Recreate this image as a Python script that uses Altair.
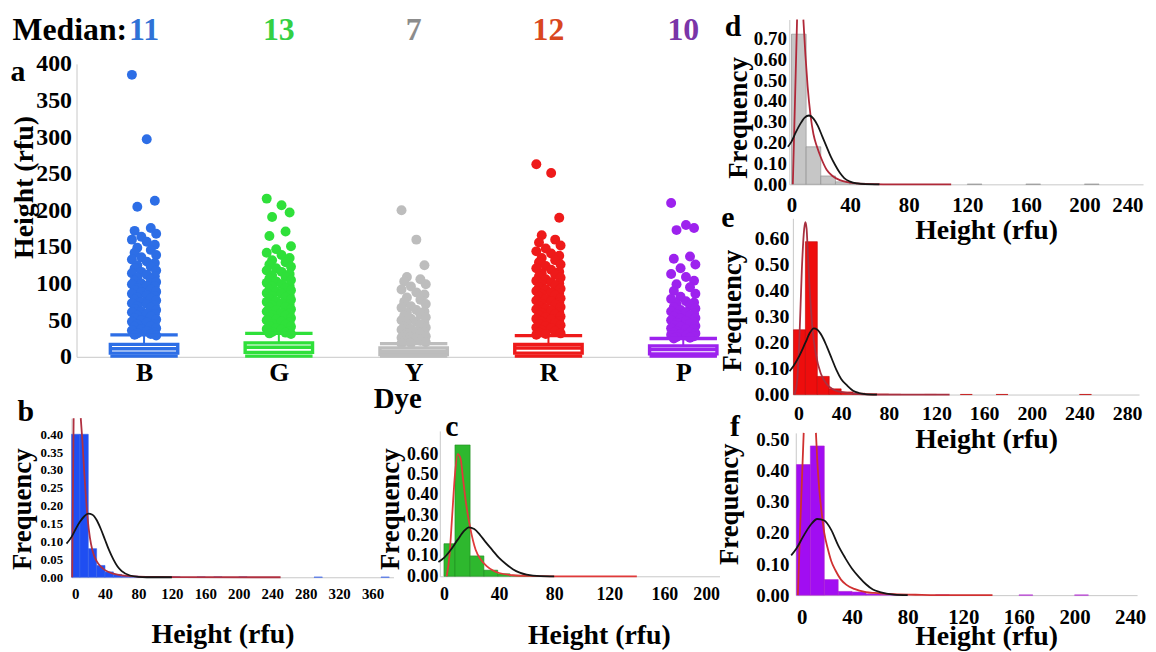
import altair as alt
import pandas as pd

# ---------------- data ----------------
DYES = ["B", "G", "Y", "R", "P"]
MEDIANS = [11, 13, 7, 12, 10]
Q1 = [5, 6, 3, 5, 4]
Q3 = [17, 19, 12, 17, 15]
WHISKER_HI = [30, 32, 18, 29, 25]
WHISKER_LO = [1, 1, 1, 1, 1]

B_HEIGHTS = [385, 297, 213, 205, 176, 172, 168, 164, 160, 157, 153, 149, 146, 142, 139, 136, 133, 130,
             128, 125, 123, 121, 118, 116, 114, 112, 110, 108, 106, 104, 102, 100, 99, 97, 96, 94, 92,
             91, 89, 88, 86, 84, 83, 81, 80, 78, 77, 75, 73, 72, 70, 69, 67, 65, 64, 62, 61, 59, 58,
             56, 55, 53, 51, 50, 48, 47, 45, 44, 42, 41, 39, 38, 36, 35, 33, 32, 31, 30, 29]
G_HEIGHTS = [216, 207, 197, 191, 171, 165, 151, 147, 142, 139, 135, 132, 129, 126, 123, 121, 118, 116,
             113, 111, 109, 107, 105, 103, 101, 99, 97, 96, 94, 92, 91, 89, 87, 86, 84, 83, 81, 79, 78,
             76, 75, 73, 71, 70, 68, 67, 65, 64, 62, 60, 59, 57, 56, 54, 53, 51, 50, 48, 47, 45, 44,
             42, 41, 39, 38, 37, 35, 34, 33, 32, 31]
Y_HEIGHTS = [200, 160, 125, 109, 106, 103, 99, 96, 92, 88, 85, 81, 78, 75, 72, 69, 67, 64, 62, 60, 58,
             56, 54, 52, 50, 48, 46, 45, 43, 41, 40, 38, 37, 35, 34, 32, 31, 29, 28, 27, 26, 25, 24, 23,
             22, 21, 20, 19, 18]
R_HEIGHTS = [263, 251, 190, 166, 160, 156, 152, 148, 144, 141, 138, 135, 132, 129, 126, 124, 121, 119,
             116, 114, 112, 110, 108, 106, 104, 102, 100, 98, 97, 95, 93, 92, 90, 88, 87, 85, 84, 82,
             80, 79, 77, 76, 74, 72, 71, 69, 68, 66, 65, 63, 61, 60, 58, 57, 55, 54, 52, 51, 49, 48,
             46, 45, 43, 42, 40, 39, 37, 36, 35, 33, 32, 31, 30]
P_HEIGHTS = [210, 180, 176, 173, 137, 134, 126, 121, 113, 109, 104, 99, 95, 90, 86, 82, 79, 76, 74, 72,
             70, 68, 66, 64, 62, 61, 59, 58, 56, 55, 53, 52, 50, 49, 47, 46, 45, 43, 42, 41, 39, 38, 37,
             35, 34, 33, 32, 31, 30, 29, 28, 27, 26, 25]

# histograms: bin start, bin end, frequency
B_BIN_LO = [0, 10, 20, 30, 40, 50, 60, 70, 80, 90, 100, 120, 150, 170, 200, 290, 370]
B_BIN_HI = [10, 20, 30, 40, 50, 60, 70, 80, 90, 100, 110, 130, 160, 180, 210, 300, 380]
B_FREQ = [0.40, 0.40, 0.08, 0.033, 0.015, 0.008, 0.004, 0.003, 0.002, 0.002, 0.001, 0.001, 0.001, 0.001, 0.001, 0.0005, 0.0005]
C_BIN_LO = [0, 8, 19, 29, 39, 48, 58]
C_BIN_HI = [8, 19, 29, 39, 48, 58, 68]
C_FREQ = [0.16, 0.645, 0.10, 0.03, 0.012, 0.005, 0.002]
D_BIN_LO = [0, 10, 20, 30, 40, 50, 120, 160, 200]
D_BIN_HI = [10, 20, 30, 40, 50, 60, 130, 170, 210]
D_FREQ = [0.72, 0.18, 0.04, 0.012, 0.006, 0.003, 0.001, 0.001, 0.001]
E_BIN_LO = [0, 10, 20, 30, 40, 50, 60, 70, 80, 110, 140, 170, 240]
E_BIN_HI = [10, 20, 30, 40, 50, 60, 70, 80, 90, 120, 150, 180, 250]
E_FREQ = [0.25, 0.59, 0.07, 0.022, 0.01, 0.005, 0.003, 0.002, 0.001, 0.0005, 0.0005, 0.0005, 0.0005]
F_BIN_LO = [0, 10, 20, 30, 40, 50, 60, 70, 100, 160, 200]
F_BIN_HI = [10, 20, 30, 40, 50, 60, 70, 80, 110, 170, 210]
F_FREQ = [0.42, 0.48, 0.05, 0.012, 0.01, 0.004, 0.003, 0.002, 0.0005, 0.0005, 0.0005]

# fitted curves as read (None = the curve leaves the panel at the top)
B_LOGN_X = [0.8, 1.5, 2.5, None, 11, 13, 15, 17, 19, 22, 25, 30, 35, 40, 50, 60, 80, 100, 130, 250]
B_LOGN_Y = [0, 0.2, 0.445, None, 0.445, 0.38, 0.3, 0.23, 0.17, 0.11, 0.075, 0.045, 0.03, 0.02, 0.01, 0.005, 0.002, 0.0007, 0.0002, 0]
B_NORM_X = [-6, 0, 5, 10, 15, 20, 25, 30, 35, 40, 45, 50, 55, 60, 70, 80, 90, 120]
B_NORM_Y = [0.094, 0.113, 0.135, 0.155, 0.17, 0.178, 0.175, 0.16, 0.135, 0.105, 0.075, 0.05, 0.03, 0.017, 0.005, 0.001, 0, 0]
C_LOGN_X = [2, 4, 6, 8, 10, 12, 14, 16, 19, 23, 27, 31, 36, 40, 50, 60, 80, 140]
C_LOGN_Y = [0, 0.1, 0.3, 0.5, 0.6, 0.58, 0.47, 0.36, 0.24, 0.13, 0.08, 0.05, 0.027, 0.016, 0.005, 0.0015, 0, 0]
C_NORM_X = [-4, 0, 5, 10, 15, 18, 22, 26, 30, 35, 40, 45, 50, 55, 60, 70, 80]
C_NORM_Y = [0.07, 0.09, 0.13, 0.18, 0.225, 0.24, 0.232, 0.205, 0.17, 0.13, 0.09, 0.06, 0.035, 0.018, 0.008, 0.001, 0]
D_LOGN_X = [0.9, 2.2, 3.8, None, 8.1, 9.5, 11, 13, 15, 17.4, 20, 24, 28, 33, 38, 44, 55, 70, 109]
D_LOGN_Y = [0, 0.35, 0.79, None, 0.79, 0.62, 0.47, 0.33, 0.24, 0.18, 0.13, 0.07, 0.04, 0.02, 0.01, 0.005, 0.001, 0, 0]
D_NORM_X = [-2.5, 0, 3, 6, 9, 12, 15, 18, 21, 24, 27, 30, 33, 36, 40, 45, 50, 60]
D_NORM_Y = [0.18, 0.205, 0.25, 0.29, 0.32, 0.33, 0.315, 0.28, 0.23, 0.18, 0.13, 0.09, 0.055, 0.03, 0.013, 0.004, 0.001, 0]
E_LOGN_X = [0.8, 3, 5, 7, 9, 10, 11, 12, 13.3, 16, 19, 23, 28, 33, 40, 50, 60, 70, 131]
E_LOGN_Y = [0, 0.05, 0.22, 0.48, 0.64, 0.665, 0.64, 0.55, 0.43, 0.25, 0.15, 0.08, 0.04, 0.02, 0.01, 0.004, 0.001, 0, 0]
E_NORM_X = [-3.3, 0, 5, 10, 14, 17, 20, 24, 28, 32, 36, 40, 45, 50, 55, 60, 70]
E_NORM_Y = [0.09, 0.11, 0.15, 0.2, 0.24, 0.255, 0.25, 0.225, 0.185, 0.14, 0.095, 0.06, 0.035, 0.015, 0.006, 0.002, 0]
F_LOGN_X = [1, 2.5, 5.2, None, 14, 15, 16.4, 18, 20, 22.5, 25, 28, 32, 36, 41.6, 50, 56, 70, 90, 110, 141]
F_LOGN_Y = [0, 0.2, 0.522, None, 0.522, 0.43, 0.34, 0.27, 0.2, 0.15, 0.11, 0.08, 0.05, 0.033, 0.02, 0.01, 0.007, 0.003, 0.001, 0, 0]
F_NORM_X = [-3.8, 0, 5, 10, 15, 20, 25, 30, 35, 40, 45, 50, 55, 60, 70, 80]
F_NORM_Y = [0.128, 0.15, 0.19, 0.225, 0.245, 0.24, 0.21, 0.16, 0.12, 0.085, 0.058, 0.035, 0.018, 0.01, 0.002, 0]

# ---------------- style / layout ----------------
M = 8              # page margin
W, H = 1148, 644   # whole canvas
SERIF = "Liberation Serif"
DYE_COLORS = ["#2d6ee6", "#2fe03a", "#bdbdbd", "#ee1a1a", "#9d22ee"]
MEDIAN_COLORS = ["#2f72d6", "#33d044", "#8c8c8c", "#d9471f", "#7a35a8"]
JIT = [-0.09, 0.02, 0.08, -0.05, 0.05, -0.07, 0.09, -0.02]
BOX_HALF = 0.25
AXIS_GREY = "#c8c8c8"


def geom(x0px, xppu, xdom, y0px, yppu, ydom):
    xr = [x0px + xppu * xdom[0] - M, x0px + xppu * xdom[1] - M]
    yr = [y0px - yppu * ydom[0] - M, y0px - yppu * ydom[1] - M]
    return dict(xdom=xdom, ydom=ydom, xr=xr, yr=yr, yax=xr[0], xax=y0px - M)


GA = geom(145, 135.75, [-0.501, 4.236], 357, 0.7375, [0, 400])
GB = geom(72, 0.842, [0, 385], 579, 360, [0, 0.445])
GC = geom(447, 1.3875, [-3, 200], 578, 205, [0, 0.714])
GD = geom(797, 1.475, [-1.5, 240], 183.3, 210, [0, 0.79])
GE = geom(799, 1.2, [-0.5, 290], 395, 261, [0, 0.68])
GF = geom(802, 1.4, [-0.5, 245], 597, 313, [0, 0.522])


def xs(g):
    return alt.Scale(domain=g["xdom"], range=g["xr"], nice=False, zero=False)


def ys(g):
    return alt.Scale(domain=g["ydom"], range=g["yr"], nice=False, zero=False)


COMMON = dict(domainColor=AXIS_GREY, domainWidth=1, ticks=False, grid=False,
              labelFont=SERIF, labelFontWeight="bold", labelColor="black",
              titleFont=SERIF, titleFontWeight="bold", titleColor="black")


def bottom_axis(g, values, fs, label_cy, title, tcx, tcy, tfs, **kw):
    return alt.Axis(orient="bottom", offset=g["xax"] - H, values=values, labelFontSize=fs,
                    labelPadding=label_cy - M - g["xax"] - 0.45 * fs, labelAngle=0,
                    title=title, titleFontSize=tfs, titleX=tcx - M, titleY=tcy - M - g["xax"],
                    titleAlign="center", titleBaseline="middle", **COMMON, **kw)


def left_axis(g, values, fs, pad, title, tcx, tcy, tfs, **kw):
    return alt.Axis(orient="left", offset=-g["yax"], values=values, labelFontSize=fs,
                    labelPadding=pad, title=title, titleFontSize=tfs, titleAngle=270,
                    titleX=tcx - M - g["yax"], titleY=tcy - M,
                    titleAlign="center", titleBaseline="middle", **COMMON, **kw)


def hist_layer(g, lo, hi, freq, fill, stroke, xaxis, yaxis):
    df = pd.DataFrame(dict(lo=lo, hi=hi, f=freq, base=[0] * len(lo)))
    return alt.Chart(df).mark_bar(fill=fill, stroke=stroke, strokeWidth=0.6).encode(
        x=alt.X("lo:Q", scale=xs(g), axis=xaxis), x2="hi",
        y=alt.Y("f:Q", scale=ys(g), axis=yaxis), y2="base")


def curve_layer(g, cx, cy, color, width=1.8):
    rows, seg = [], 0
    for a, b in zip(cx, cy):
        if a is None:
            seg += 1
            continue
        rows.append(dict(x=a, y=b, seg=seg))
    df = pd.DataFrame(rows)
    return alt.Chart(df).mark_line(color=color, strokeWidth=width, interpolate="monotone").encode(
        x=alt.X("x:Q", scale=xs(g), axis=None), y=alt.Y("y:Q", scale=ys(g), axis=None),
        detail="seg:N")


def text_layer(text, cx, cy, size, color="black", align="center"):
    df = pd.DataFrame({"t": [text]})
    return alt.Chart(df).mark_text(font=SERIF, fontWeight="bold", fontSize=size, color=color,
                                   align=align, baseline="middle").encode(
        text="t:N", x=alt.value(cx - M), y=alt.value(cy - M))


layers = []

# ---------- panel a ----------
prow = []
for i, vals in enumerate([B_HEIGHTS, G_HEIGHTS, Y_HEIGHTS, R_HEIGHTS, P_HEIGHTS]):
    for k, v in enumerate(vals):
        prow.append(dict(dye=DYES[i], x=i + JIT[k % len(JIT)], h=v, col=DYE_COLORS[i]))
df_pts = pd.DataFrame(prow)
df_box = pd.DataFrame(dict(
    x=list(range(5)), xlo=[i - BOX_HALF for i in range(5)], xhi=[i + BOX_HALF for i in range(5)],
    q1=Q1, q3=Q3, med=MEDIANS, hi=WHISKER_HI, lo=WHISKER_LO, col=DYE_COLORS))
df_med = pd.DataFrame(dict(x=list(range(5)), lab=[str(m) for m in MEDIANS], col=MEDIAN_COLORS))

label_expr = "[" + ",".join("'%s'" % d for d in DYES) + "][datum.value]"
ax_a_x = bottom_axis(GA, [0, 1, 2, 3, 4], 26, 372, "Dye", 400, 399, 29, labelExpr=label_expr)
ax_a_y = left_axis(GA, list(range(0, 401, 50)), 24, 5, "Height (rfu)", 25, 186, 28)

layers.append(alt.Chart(df_pts).mark_circle(size=100, opacity=1).encode(
    x=alt.X("x:Q", scale=xs(GA), axis=ax_a_x),
    y=alt.Y("h:Q", scale=ys(GA), axis=ax_a_y),
    color=alt.Color("col:N", scale=None)))
layers.append(alt.Chart(df_box).mark_rule(strokeWidth=2).encode(
    x=alt.X("x:Q", scale=xs(GA), axis=None), y=alt.Y("q3:Q", scale=ys(GA), axis=None), y2="hi",
    color=alt.Color("col:N", scale=None)))
layers.append(alt.Chart(df_box).mark_rect(fill="white", strokeWidth=3.4).encode(
    x=alt.X("xlo:Q", scale=xs(GA), axis=None), x2="xhi",
    y=alt.Y("q1:Q", scale=ys(GA), axis=None), y2="q3",
    stroke=alt.Color("col:N", scale=None)))
for fld in ["med", "hi", "lo"]:
    layers.append(alt.Chart(df_box).mark_rule(strokeWidth=3.4).encode(
        x=alt.X("xlo:Q", scale=xs(GA), axis=None), x2="xhi",
        y=alt.Y(fld + ":Q", scale=ys(GA), axis=None),
        color=alt.Color("col:N", scale=None)))
layers.append(alt.Chart(df_med).mark_text(font=SERIF, fontWeight="bold", fontSize=32, baseline="middle").encode(
    x=alt.X("x:Q", scale=xs(GA), axis=None), y=alt.value(28 - M), text="lab:N",
    color=alt.Color("col:N", scale=None)))
layers.append(text_layer("Median:", 128, 28, 32, align="right"))
layers.append(text_layer("a", 18, 70, 30))

# ---------- histogram panels ----------
PANELS = [
    (GB, B_BIN_LO, B_BIN_HI, B_FREQ, "#1f4ef2", "#3a64e8", "#b03040", B_LOGN_X, B_LOGN_Y, B_NORM_X, B_NORM_Y,
     list(range(0, 361, 40)), [round(0.05 * i, 2) for i in range(9)], 15, 13, 9,
     595, (224, 637), (23, 510), (26, 413, "b"), False),
    (GC, C_BIN_LO, C_BIN_HI, C_FREQ, "#2eb82e", "#1e8c1e", "#e03a3a", C_LOGN_X, C_LOGN_Y, C_NORM_X, C_NORM_Y,
     list(range(0, 201, 40)), [round(0.1 * i, 1) for i in range(7)], 18, 18, 2,
     595, (603, 638), (393, 510), (455, 428, "c"), False),
    (GD, D_BIN_LO, D_BIN_HI, D_FREQ, "#c6c6c6", "#8a8a8a", "#b02838", D_LOGN_X, D_LOGN_Y, D_NORM_X, D_NORM_Y,
     list(range(0, 241, 40)), [round(0.1 * i, 1) for i in range(8)], 21, 19, 3,
     203, (993, 230), (744, 116), (738, 25, "d"), True),
    (GE, E_BIN_LO, E_BIN_HI, E_FREQ, "#ee0d0d", "#c00000", "#a83040", E_LOGN_X, E_LOGN_Y, E_NORM_X, E_NORM_Y,
     list(range(0, 281, 40)), [round(0.1 * i, 1) for i in range(7)], 20, 20, 4,
     413, (993, 440), (738, 310), (733, 217, "e"), False),
    (GF, F_BIN_LO, F_BIN_HI, F_FREQ, "#a10df2", "#b020d0", "#d03030", F_LOGN_X, F_LOGN_Y, F_NORM_X, F_NORM_Y,
     list(range(0, 241, 40)), [round(0.1 * i, 1) for i in range(6)], 21, 19, 7,
     618, (993, 639), (735, 505), (740, 428, "f"), False),
]

for (g, lo, hi, fq, fill, stroke, red, lx, ly, nx, ny, xv, yv, fsx, fsy, ypad,
     xlcy, xt, yt, letter, flush) in PANELS:
    xkw = dict(labelFlush=True) if flush else {}
    xaxis = bottom_axis(g, xv, fsx, xlcy, "Height (rfu)", xt[0], xt[1], 28, **xkw)
    yaxis = left_axis(g, yv, fsy, ypad, "Frequency", yt[0], yt[1], 27, format=".2f")
    layers.append(hist_layer(g, lo, hi, fq, fill, stroke, xaxis, yaxis))
    layers.append(curve_layer(g, lx, ly, red))
    layers.append(curve_layer(g, nx, ny, "#151515"))
    layers.append(text_layer(letter[2], letter[0], letter[1], 30))

chart = alt.layer(*layers).resolve_scale(x="independent", y="independent").properties(
    width=W, height=H, padding=0, autosize=alt.AutoSizeParams(type="none")
).configure_view(stroke=None)

chart.save("out.html", embed_options={"renderer": "svg", "actions": False})
